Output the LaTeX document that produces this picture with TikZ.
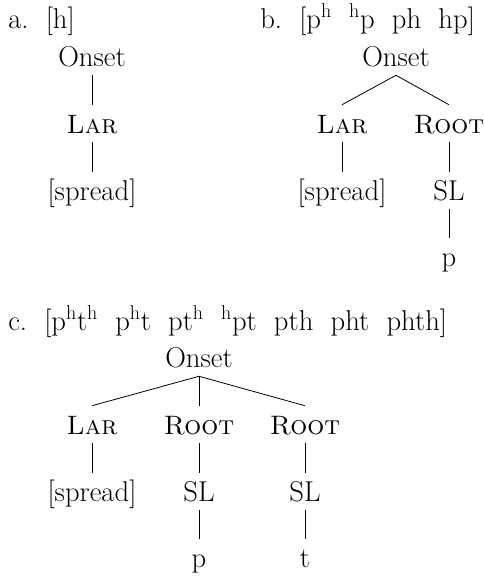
\documentclass[tikz,border=0pt]{standalone}
\usepackage{tikz}
\newcommand{\gap}{\hspace{0.6em}}
\newcommand{\scap}[1]{{\fontsize{20}{24}\selectfont\textsc{#1}}}
\begin{document}
\begin{tikzpicture}[x=0.75pt,y=-0.75pt,
  every node/.style={font=\fontsize{21.5}{26}\selectfont},
  tnode/.style={anchor=base,inner sep=0pt,text height=21pt,text depth=6.75pt},
  title/.style={anchor=base west,inner sep=0pt},
  branch/.style={line width=0.6pt}]
\useasboundingbox (0,0) rectangle (483,576);
% panel a
\node[title] (ta) at (8,28) {a.\gap[h]};
\node[tnode] (aO) at (92,66) {Onset};
\node[tnode] (aL) at (92,133) {\scap{Lar}};
\node[tnode] (aS) at (92,200) {[spread]};
\draw[branch] (aO.south) -- (aL.north);
\draw[branch] (aL.south) -- (aS.north);
% panel b
\node[title] (tb) at (260,28) {b.\gap[p\textsuperscript{h}\gap\textsuperscript{h}p\gap ph\gap hp]};
\node[tnode] (bO) at (396,66) {Onset};
\node[tnode] (bL) at (342,133) {\scap{Lar}};
\node[tnode] (bR) at (449,133) {\scap{Root}};
\node[tnode] (bS) at (342,200) {[spread]};
\node[tnode] (bSL) at (449,200) {SL};
\node[tnode] (bp) at (449,266) {p};
\draw[branch] (bO.south) -- (bL.north);
\draw[branch] (bO.south) -- (bR.north);
\draw[branch] (bL.south) -- (bS.north);
\draw[branch] (bR.south) -- (bSL.north);
\draw[branch] (bSL.south) -- (bp.north);
% panel c
\node[title] (tc) at (8,330) {c.\gap[p\textsuperscript{h}t\textsuperscript{h}\gap p\textsuperscript{h}t\gap pt\textsuperscript{h}\gap\textsuperscript{h}pt\gap pth\gap pht\gap phth]};
\node[tnode] (cO) at (199,367) {Onset};
\node[tnode] (cL) at (92,434) {\scap{Lar}};
\node[tnode] (cR1) at (199,434) {\scap{Root}};
\node[tnode] (cR2) at (305,434) {\scap{Root}};
\node[tnode] (cS) at (92,501) {[spread]};
\node[tnode] (cSL1) at (199,501) {SL};
\node[tnode] (cSL2) at (305,501) {SL};
\node[tnode] (cp) at (199,567) {p};
\node[tnode] (ct) at (305,567) {t};
\draw[branch] (cO.south) -- (cL.north);
\draw[branch] (cO.south) -- (cR1.north);
\draw[branch] (cO.south) -- (cR2.north);
\draw[branch] (cL.south) -- (cS.north);
\draw[branch] (cR1.south) -- (cSL1.north);
\draw[branch] (cR2.south) -- (cSL2.north);
\draw[branch] (cSL1.south) -- (cp.north);
\draw[branch] (cSL2.south) -- (ct.north);
\end{tikzpicture}
\end{document}
